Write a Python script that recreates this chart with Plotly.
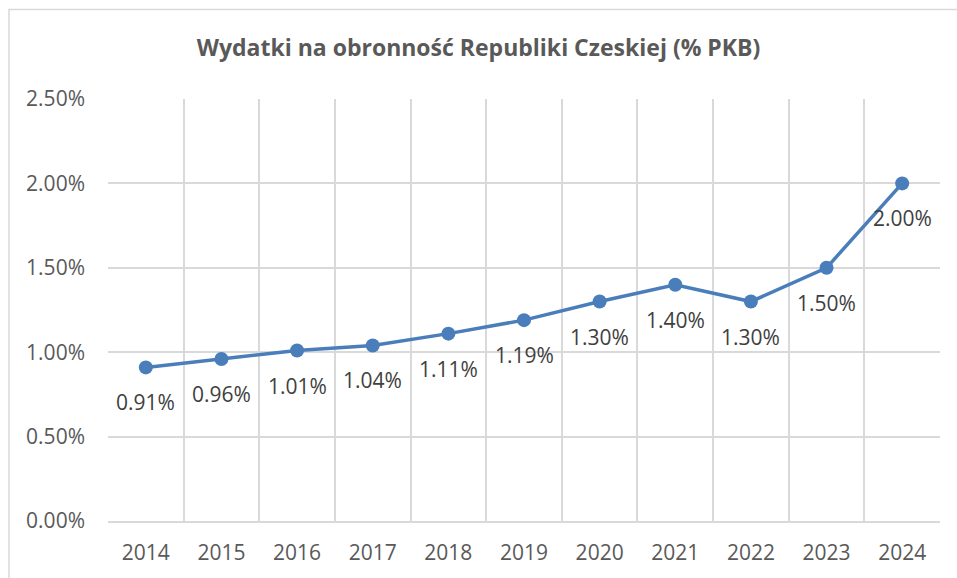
import plotly.graph_objects as go

years = ["2014", "2015", "2016", "2017", "2018", "2019", "2020", "2021", "2022", "2023", "2024"]
values = [0.91, 0.96, 1.01, 1.04, 1.11, 1.19, 1.30, 1.40, 1.30, 1.50, 2.00]
labels = [f"{v:.2f}%" for v in values]
title = "Wydatki na obronność Republiki Czeskiej (% PKB)"

font_family = "Open Sans, Liberation Sans, sans-serif"

fig = go.Figure()
fig.add_trace(go.Scatter(
    x=years, y=values, mode="lines+markers",
    line=dict(color="#4a7ebb", width=3.5),
    marker=dict(color="#4a7ebb", size=14),
    cliponaxis=False, hoverinfo="skip",
))

annotations = [
    dict(x=i, y=v, xref="x", yref="y", text=lab, showarrow=False, yshift=-35,
         font=dict(size=21, color="#404040", family=font_family))
    for i, (v, lab) in enumerate(zip(values, labels))
]

fig.update_layout(
    width=957, height=578,
    margin=dict(l=108, r=17, t=99, b=55),
    paper_bgcolor="white", plot_bgcolor="white",
    showlegend=False,
    annotations=annotations,
    title=dict(text="<b>" + title + "</b>", x=0.5, xref="container", xanchor="center",
               y=1 - 48 / 578, yref="container", yanchor="middle",
               font=dict(size=23, color="#595959", family=font_family)),
    xaxis=dict(type="category", tickson="boundaries", showgrid=True, range=[-0.5, 10.5],
               gridcolor="#d9d9d9", gridwidth=1.5, ticks="", showline=True,
               linecolor="#d9d9d9", linewidth=1.5, mirror=False,
               tickfont=dict(size=21, color="#595959", family=font_family)),
    yaxis=dict(range=[0, 2.5], dtick=0.5, tickformat=".2f", ticksuffix="%",
               showgrid=True, gridcolor="#d9d9d9", gridwidth=1.5, zeroline=False,
               showline=False, ticks="", ticklen=0,
               tickfont=dict(size=21, color="#595959", family=font_family)),
)
fig.update_yaxes(ticklabelstandoff=22)
fig.update_xaxes(ticklabelstandoff=12)

fig.add_shape(type="rect", xref="paper", yref="paper",
              x0=(9 - 108) / 832, x1=1.2, y0=-0.3, y1=(523 - 9) / 424,
              line=dict(color="#d9d9d9", width=1.5), fillcolor="rgba(0,0,0,0)", layer="below")

fig.write_html("out.html")
